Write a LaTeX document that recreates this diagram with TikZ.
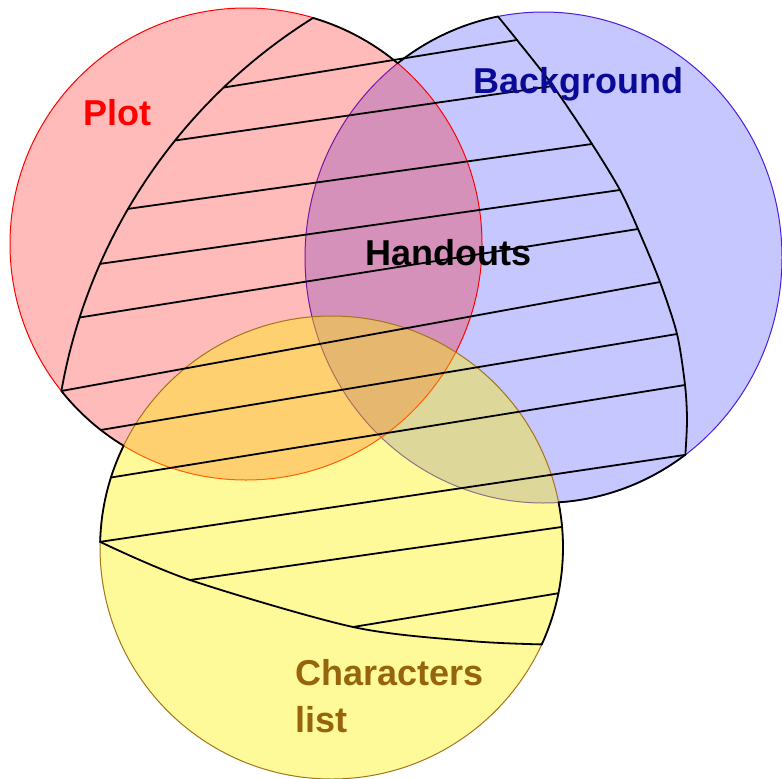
\documentclass[tikz,border=0pt]{standalone}
\usepackage{fontspec}
\setmainfont{Liberation Sans}
\usetikzlibrary{calc}

\definecolor{backline}{RGB}{70,30,220}
\definecolor{backtext}{RGB}{10,10,150}
\definecolor{charline}{RGB}{165,115,25}
\definecolor{chartext}{RGB}{150,100,10}

\begin{document}
\begin{tikzpicture}[x=1pt,y=-1pt,
	setshape/.style={line width=1pt, fill opacity=#1},
	hatch/.style={line width=1.8pt, line join=round, line cap=round},
	setname/.style={font=\fontsize{36}{40}\selectfont\bfseries, inner sep=0pt, anchor=base west}]

	\useasboundingbox (0,0) rectangle (782,779);

	% ---- parameters

	\def\rplot{236}
	\def\rxback{238.5}
	\def\ryback{245.5}
	\def\rchar{231.5}
	\def\rleft{553}

	% ---- centres

	\coordinate (P) at (246,244);
	\coordinate (B) at (543.5,257.5);
	\coordinate (C) at (331.5,547.5);
	\coordinate (L) at (606,487);

	% ---- sets

	\draw[setshape=0.22, draw=backline, fill=blue] (B) ellipse[x radius=\rxback, y radius=\ryback];
	\draw[setshape=0.27, draw=red, fill=red] (P) circle[radius=\rplot];
	\draw[setshape=0.4, draw=charline, fill=yellow] (C) circle[radius=\rchar];

	% ---- hatch ends, left

	\coordinate (tl) at ($(L)+(238.03:\rleft)$);
	\coordinate (l1) at ($(L)+(226.25:\rleft)$);
	\coordinate (l2) at ($(L)+(218.8:\rleft)$);
	\coordinate (l3) at ($(L)+(210.2:\rleft)$);
	\coordinate (l4) at ($(L)+(203.8:\rleft)$);
	\coordinate (l5) at ($(L)+(197.85:\rleft)$);
	\coordinate (l6) at ($(L)+(190:\rleft)$);
	\coordinate (l7) at ($(P)+(128:\rplot)$);
	\coordinate (l8) at ($(C)+(197.6:\rchar)$);
	\coordinate (l9) at ($(C)+(181.4:\rchar)$);
	\coordinate (l10) at (190,580);
	\coordinate (l11) at (353,627);

	% ---- hatch ends, right

	\coordinate (tr) at ($(B)+({\rxback*cos(-101)},{\ryback*sin(-101)})$);
	\coordinate (r1) at (517,40);
	\coordinate (r2) at (553,86);
	\coordinate (r3) at (592,144);
	\coordinate (r4) at (620,190);
	\coordinate (r5) at (638,229);
	\coordinate (r6) at (660,282);
	\coordinate (r7) at (677,334);
	\coordinate (r8) at (685,385);
	\coordinate (rm) at (687,420);
	\coordinate (r9) at ($(B)+({\rxback*cos(53.5)},{\ryback*sin(53.5)})$);
	\coordinate (r10) at ($(C)+(-5.1:\rchar)$);
	\coordinate (r11) at ($(C)+(11.4:\rchar)$);
	\coordinate (br) at ($(C)+(24.75:\rchar)$);
	\coordinate (bm) at (470,641);

	% ---- hatching

	\foreach \i in {1,...,11} { \draw[hatch] (l\i) -- (r\i); }

	% ---- outline of the hatched part

	\draw[hatch] (tl) arc[start angle=238.03, end angle=190, radius=\rleft]
		arc[start angle=141.47, end angle=121.23, radius=\rplot]
		arc[start angle=206.07, end angle=181.4, radius=\rchar];
	\draw[hatch] plot[smooth] coordinates {(l9) (l10) (l11) (bm) (br)};
	\draw[hatch] (br) arc[start angle=24.75, end angle=-11.26, radius=\rchar]
		arc[start angle=86.4, end angle=53.5, x radius=\rxback, y radius=\ryback];
	\draw[hatch] plot[smooth] coordinates {(r9) (rm) (r8) (r7) (r6) (r5) (r4) (r3) (r2) (r1) (tr)};
	\draw[hatch] (tr) arc[start angle=-101, end angle=-127.7, x radius=\rxback, y radius=\ryback]
		arc[start angle=-50.1, end angle=-73.5, radius=\rplot];

	% ---- names

	\node[setname, text=red] (plot) at (83,125) {Plot};
	\node[setname, text=backtext] (back) at (473,93) {Background};
	\node[setname] (hand) at (365,265) {Handouts};
	\node[setname, text=chartext] (chars) at (295,685) {Characters};
	\node[setname, text=chartext] (list) at (295,732) {list};

\end{tikzpicture}
\end{document}
